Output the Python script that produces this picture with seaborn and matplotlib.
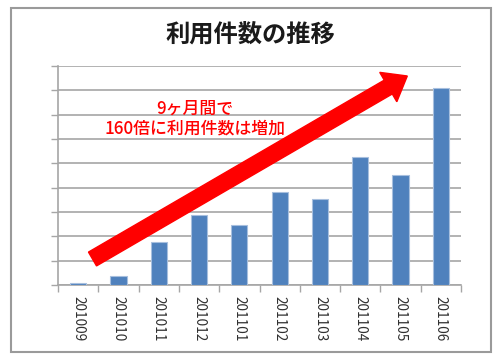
import matplotlib
matplotlib.use("Agg")
import matplotlib.pyplot as plt
import seaborn as sns
import pandas as pd
from matplotlib.patches import FancyArrow, Rectangle

# DATA
months = ["201009", "201010", "201011", "201012", "201101",
          "201102", "201103", "201104", "201105", "201106"]
counts = [0.06, 0.38, 1.75, 2.88, 2.47, 3.82, 3.53, 5.27, 4.53, 8.10]

title = "利用件数の推移"
note = "9ヶ月間で\n160倍に利用件数は増加"

df = pd.DataFrame({"month": months, "count": counts})

sns.set_theme(style="white")
plt.rcParams["font.family"] = ["Noto Sans CJK JP", "DejaVu Sans"]

fig = plt.figure(figsize=(5, 3.63), dpi=100)
ax = fig.add_axes([0.116, 0.215, 0.806, 0.603])

sns.barplot(data=df, x="month", y="count", color="#4F81BD", saturation=1,
            width=0.4, edgecolor="#A7BFDE", linewidth=0.8, ax=ax, zorder=3)

grid_c = "#A6A6A6"
ax.set_ylim(0, 9)
ax.set_xlim(-0.5, len(months) - 0.5)
ax.set_yticks(range(0, 10))
ax.set_yticklabels([])
ax.yaxis.grid(True, color=grid_c, linewidth=1.2, zorder=0)
ax.tick_params(axis="y", left=True, length=5, color=grid_c, width=1)

# x ticks at category borders, labels at centers
ax.set_xticks([i - 0.5 for i in range(len(months) + 1)], minor=True)
ax.set_xticks(range(len(months)))
ax.set_xticklabels(months, rotation=-90, fontsize=9.8, color="#303030")
ax.tick_params(axis="x", which="major", length=0, pad=8)
ax.tick_params(axis="x", which="minor", bottom=True, length=5, color=grid_c, width=1)
ax.set_xlabel("")
ax.set_ylabel("")

for side in ["top", "right"]:
    ax.spines[side].set_visible(False)
for side in ["left", "bottom"]:
    ax.spines[side].set_color(grid_c)
    ax.spines[side].set_linewidth(1.2)

# outer frame
fig.add_artist(Rectangle((0.022, 0.03), 0.96, 0.948, transform=fig.transFigure,
                         fill=False, edgecolor="#9A9A9A", linewidth=1.5))

fig.text(0.5, 0.905, title, ha="center", va="center", fontsize=17.5,
         fontweight="bold", color="#1A1A1A")

# red arrow (inches coordinates)
arrow = FancyArrow(0.925, 1.04, 3.148, 1.83, width=0.16, head_width=0.34,
                   head_length=0.22, length_includes_head=True,
                   color="#FF0000", transform=fig.dpi_scale_trans, zorder=5)
fig.add_artist(arrow)

fig.text(0.39, 0.673, note, ha="center", va="center", fontsize=12.2,
         color="#FF0000", linespacing=1.15, fontweight="medium")

fig.savefig("out.png", dpi=100, facecolor="white")
